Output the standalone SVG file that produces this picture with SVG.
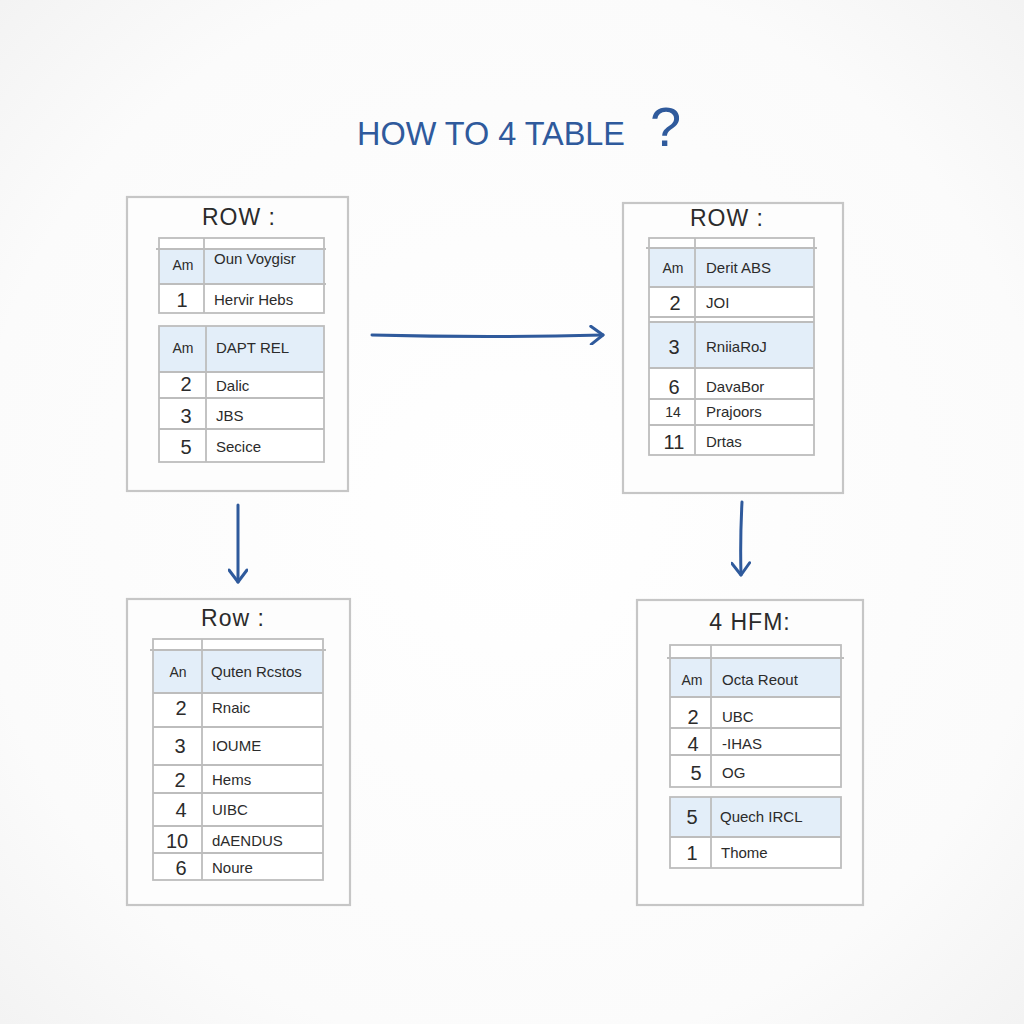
<svg xmlns="http://www.w3.org/2000/svg" width="1024" height="1024" viewBox="0 0 1024 1024">
<defs>
<radialGradient id="bg" cx="50%" cy="50%" r="75%">
<stop offset="0" stop-color="#ffffff"/>
<stop offset="0.7" stop-color="#fbfbfb"/>
<stop offset="1" stop-color="#f1f1f1"/>
</radialGradient>
<marker id="chev" viewBox="0 0 20 20" refX="16" refY="10" markerWidth="20" markerHeight="20" markerUnits="userSpaceOnUse" orient="auto">
<path d="M4 1 L16 10 L4 19" fill="none" stroke="#2f5a9c" stroke-width="3" stroke-linecap="round" stroke-linejoin="round"/>
</marker>
</defs>
<style>
.page{fill:#fdfdfd;stroke:#c6c6c6;stroke-width:2.2}
.tl{stroke:#bdbdbd;stroke-width:1.8;fill:none}
.hd{fill:#e3eef9}
.wt{fill:#ffffff}
.t{font-family:"Liberation Sans",Arial,sans-serif;fill:#2b2b2b}
.ttl{font-size:23px;text-anchor:middle;letter-spacing:1px}
.am{font-size:14px;text-anchor:middle}
.num{font-size:20px;text-anchor:middle}
.nm{font-size:15px}
.arr{fill:none;stroke:#2f5a9c;stroke-width:3;stroke-linecap:round;marker-end:url(#chev)}
.hdr{font-family:"Liberation Sans",Arial,sans-serif;fill:#2f5a9c}
</style>
<rect width="1024" height="1024" fill="url(#bg)"/>

<g id="title">
<text class="hdr" x="357" y="145" font-size="33" textLength="268" lengthAdjust="spacingAndGlyphs">HOW TO 4 TABLE</text>
<text class="hdr" x="650" y="146" font-size="56">?</text>
</g>

<g id="panel-top-left">
<rect class="page" x="127" y="197" width="221" height="294"/>
<text class="t ttl" x="239" y="225">ROW :</text>
<rect class="wt" x="159" y="238" width="165" height="75"/>
<rect class="hd" x="159" y="249" width="165" height="35"/>
<rect class="tl" x="159" y="238" width="165" height="75"/>
<line class="tl" x1="156" y1="249" x2="326" y2="249"/>
<line class="tl" x1="159" y1="284" x2="326" y2="284"/>
<line class="tl" x1="204" y1="238" x2="204" y2="313"/>
<text class="t am" x="183" y="270">Am</text>
<text class="t nm" x="214" y="264">Oun Voygisr</text>
<text class="t num" x="182" y="307">1</text>
<text class="t nm" x="214" y="305">Hervir Hebs</text>
<rect class="wt" x="159" y="326" width="165" height="136"/>
<rect class="hd" x="159" y="326" width="165" height="46"/>
<rect class="tl" x="159" y="326" width="165" height="136"/>
<line class="tl" x1="159" y1="372" x2="324" y2="372"/>
<line class="tl" x1="159" y1="398" x2="324" y2="398"/>
<line class="tl" x1="159" y1="429" x2="324" y2="429"/>
<line class="tl" x1="206" y1="326" x2="206" y2="462"/>
<text class="t am" x="183" y="353">Am</text>
<text class="t nm" x="216" y="353">DAPT REL</text>
<text class="t num" x="186" y="391">2</text>
<text class="t nm" x="216" y="391">Dalic</text>
<text class="t num" x="186" y="423">3</text>
<text class="t nm" x="216" y="421">JBS</text>
<text class="t num" x="186" y="454">5</text>
<text class="t nm" x="216" y="452">Secice</text>
</g>

<g id="panel-top-right">
<rect class="page" x="623" y="203" width="220" height="290"/>
<text class="t ttl" x="727" y="226">ROW :</text>
<rect class="wt" x="649" y="238" width="165" height="217"/>
<rect class="hd" x="649" y="248" width="165" height="39"/>
<rect class="hd" x="649" y="322" width="165" height="46"/>
<rect class="tl" x="649" y="238" width="165" height="217"/>
<line class="tl" x1="646" y1="248" x2="817" y2="248"/>
<line class="tl" x1="649" y1="287" x2="814" y2="287"/>
<line class="tl" x1="649" y1="317" x2="814" y2="317"/>
<line class="tl" x1="649" y1="322" x2="814" y2="322"/>
<line class="tl" x1="649" y1="368" x2="814" y2="368"/>
<line class="tl" x1="649" y1="399" x2="814" y2="399"/>
<line class="tl" x1="649" y1="425" x2="814" y2="425"/>
<line class="tl" x1="695" y1="238" x2="695" y2="455"/>
<text class="t am" x="673" y="273">Am</text>
<text class="t nm" x="706" y="273">Derit ABS</text>
<text class="t num" x="675" y="310">2</text>
<text class="t nm" x="706" y="308">JOI</text>
<text class="t num" x="674" y="354">3</text>
<text class="t nm" x="706" y="352">RniiaRoJ</text>
<text class="t num" x="674" y="394">6</text>
<text class="t nm" x="706" y="392">DavaBor</text>
<text class="t am" x="673" y="417">14</text>
<text class="t nm" x="706" y="417">Prajoors</text>
<text class="t num" x="674" y="449">11</text>
<text class="t nm" x="706" y="447">Drtas</text>
</g>

<g id="panel-bottom-left">
<rect class="page" x="127" y="599" width="223" height="306"/>
<text class="t ttl" x="233" y="626">Row :</text>
<rect class="wt" x="153" y="639" width="170" height="241"/>
<rect class="hd" x="153" y="650" width="170" height="43"/>
<rect class="tl" x="153" y="639" width="170" height="241"/>
<line class="tl" x1="150" y1="650" x2="326" y2="650"/>
<line class="tl" x1="153" y1="693" x2="323" y2="693"/>
<line class="tl" x1="153" y1="727" x2="323" y2="727"/>
<line class="tl" x1="153" y1="765" x2="323" y2="765"/>
<line class="tl" x1="153" y1="793" x2="323" y2="793"/>
<line class="tl" x1="153" y1="826" x2="323" y2="826"/>
<line class="tl" x1="153" y1="853" x2="323" y2="853"/>
<line class="tl" x1="202" y1="639" x2="202" y2="880"/>
<text class="t am" x="178" y="677">An</text>
<text class="t nm" x="211" y="677">Quten Rcstos</text>
<text class="t num" x="181" y="715">2</text>
<text class="t nm" x="212" y="713">Rnaic</text>
<text class="t num" x="180" y="753">3</text>
<text class="t nm" x="212" y="751">IOUME</text>
<text class="t num" x="180" y="787">2</text>
<text class="t nm" x="212" y="785">Hems</text>
<text class="t num" x="181" y="817">4</text>
<text class="t nm" x="212" y="815">UIBC</text>
<text class="t num" x="177" y="848">10</text>
<text class="t nm" x="212" y="846">dAENDUS</text>
<text class="t num" x="181" y="875">6</text>
<text class="t nm" x="212" y="873">Noure</text>
</g>

<g id="panel-bottom-right">
<rect class="page" x="637" y="600" width="226" height="305"/>
<text class="t ttl" x="750" y="630">4 HFM:</text>
<rect class="wt" x="670" y="645" width="171" height="142"/>
<rect class="hd" x="670" y="658" width="171" height="39"/>
<rect class="tl" x="670" y="645" width="171" height="142"/>
<line class="tl" x1="667" y1="658" x2="844" y2="658"/>
<line class="tl" x1="670" y1="697" x2="841" y2="697"/>
<line class="tl" x1="670" y1="728" x2="841" y2="728"/>
<line class="tl" x1="670" y1="755" x2="841" y2="755"/>
<line class="tl" x1="711" y1="645" x2="711" y2="787"/>
<text class="t am" x="692" y="685">Am</text>
<text class="t nm" x="722" y="685">Octa Reout</text>
<text class="t num" x="693" y="724">2</text>
<text class="t nm" x="722" y="722">UBC</text>
<text class="t num" x="693" y="751">4</text>
<text class="t nm" x="722" y="749">-IHAS</text>
<text class="t num" x="696" y="780">5</text>
<text class="t nm" x="722" y="778">OG</text>
<rect class="wt" x="670" y="797" width="171" height="71"/>
<rect class="hd" x="670" y="797" width="171" height="40"/>
<rect class="tl" x="670" y="797" width="171" height="71"/>
<line class="tl" x1="670" y1="837" x2="841" y2="837"/>
<line class="tl" x1="711" y1="797" x2="711" y2="868"/>
<text class="t num" x="692" y="824">5</text>
<text class="t nm" x="720" y="822">Quech IRCL</text>
<text class="t num" x="692" y="860">1</text>
<text class="t nm" x="721" y="858">Thome</text>
</g>

<g id="connectors">
<path class="arr" d="M372 335 Q490 338 603 335"/>
<path class="arr" d="M238 505 L238 582"/>
<path class="arr" d="M742 502 Q740 540 741 575"/>
</g>
</svg>
